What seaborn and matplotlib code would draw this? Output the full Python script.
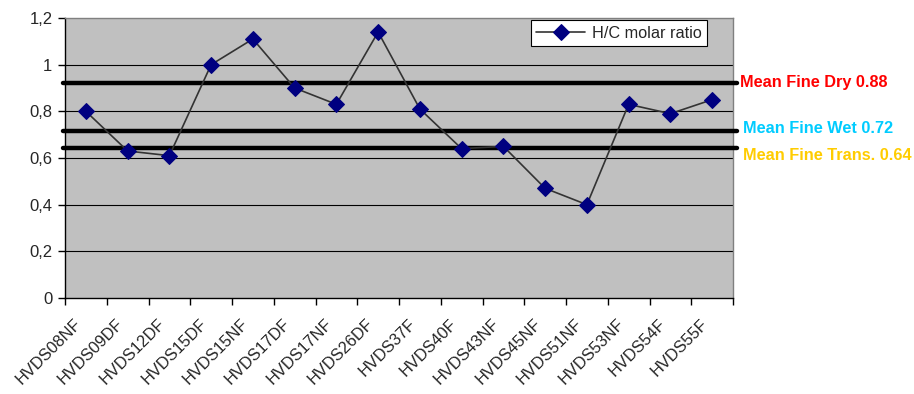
import matplotlib
matplotlib.use("Agg")
import matplotlib.pyplot as plt
import matplotlib.transforms as mtrans
import seaborn as sns
import pandas as pd
import numpy as np

samples = ["HVDS08NF", "HVDS09DF", "HVDS12DF", "HVDS15DF", "HVDS15NF", "HVDS17DF",
           "HVDS17NF", "HVDS26DF", "HVDS37F", "HVDS40F", "HVDS43NF", "HVDS45NF",
           "HVDS51NF", "HVDS53NF", "HVDS54F", "HVDS55F"]
hc_ratio = [0.80, 0.63, 0.61, 1.00, 1.11, 0.90, 0.83, 1.14, 0.81, 0.64,
            0.65, 0.47, 0.40, 0.83, 0.79, 0.85]
series_name = "H/C molar ratio"

mean_levels = [0.92, 0.716, 0.641]
mean_labels = ["Mean Fine Dry 0.88", "Mean Fine Wet 0.72", "Mean Fine Trans. 0.64"]
mean_colors = ["#FF0000", "#00CCFF", "#FFCC00"]

y_ticks = [0, 0.2, 0.4, 0.6, 0.8, 1.0, 1.2]
y_tick_labels = ["0", "0,2", "0,4", "0,6", "0,8", "1", "1,2"]

sns.set_style("white")
plt.rcParams['font.family'] = ['Liberation Sans', 'DejaVu Sans']

fig = plt.figure(figsize=(9.14, 3.94), dpi=100)
ax = fig.add_axes([65/914, 1-298/394, (733-65)/914, (298-18)/394])
ax.set_facecolor("#C0C0C0")

df = pd.DataFrame({"pos": np.arange(len(samples)), "val": hc_ratio})

for yt in y_ticks[1:-1]:
    ax.axhline(yt, color="black", lw=0.8, zorder=1)

sns.lineplot(data=df, x="pos", y="val", ax=ax, color="#333333", lw=1.2,
             marker="D", markersize=8, markerfacecolor="#000080",
             markeredgecolor="#000080", label=series_name, zorder=4)

n = len(samples)
ax.set_xlim(-0.5, n - 0.5)
ax.set_ylim(0, 1.2)

# mean lines
for lvl, lab, col, dx, dy in zip(mean_levels, mean_labels, mean_colors,
                                 [2, 4, 4], [0.5, 2, -5]):
    ax.plot([-0.55, n - 0.4], [lvl, lvl], color="black", lw=3.2,
            clip_on=False, zorder=3, solid_capstyle="round")
    ax.annotate(lab, xy=(n - 0.4, lvl), xycoords="data",
                xytext=(dx, dy), textcoords="offset points",
                ha="left", va="center", color=col, fontsize=11.7,
                fontweight="bold", annotation_clip=False)

ax.set_yticks(y_ticks)
ax.set_yticklabels(y_tick_labels, fontsize=12)

ax.set_xticks(np.arange(-0.5, n, 1.0))
ax.set_xticklabels([])
ax.set_xticks(np.arange(n), minor=True)
ax.set_xticklabels(samples, minor=True, rotation=45, ha="right",
                   rotation_mode="anchor", fontsize=11.8)
ax.tick_params(axis="x", which="major", length=5, width=1, color="black", direction="out", bottom=True)
ax.tick_params(axis="x", which="minor", length=0, pad=13, bottom=True)
ax.tick_params(axis="y", length=5, width=1, color="black", direction="out", left=True, pad=4)

ax.set_xlabel("")
ax.set_ylabel("")

for s in ["left", "bottom"]:
    ax.spines[s].set_color("black")
    ax.spines[s].set_linewidth(1)
for s in ["top", "right"]:
    ax.spines[s].set_color("#808080")
    ax.spines[s].set_linewidth(1)

leg = ax.legend(loc="upper right", bbox_to_anchor=((707-65)/668, (298-20)/280),
                frameon=True, fancybox=False, fontsize=11.7, borderpad=0.35,
                handlelength=3, handletextpad=0.4, borderaxespad=0)
leg.get_frame().set_edgecolor("black")
leg.get_frame().set_facecolor("white")
leg.get_frame().set_linewidth(0.8)
leg.get_frame().set_alpha(1)

fig.canvas.draw()
shift = mtrans.ScaledTranslation(-12/100, 0, fig.dpi_scale_trans)
for lbl in ax.get_xticklabels(minor=True):
    lbl.set_transform(lbl.get_transform() + shift)

fig.savefig("out.png", dpi=100, facecolor="white")
